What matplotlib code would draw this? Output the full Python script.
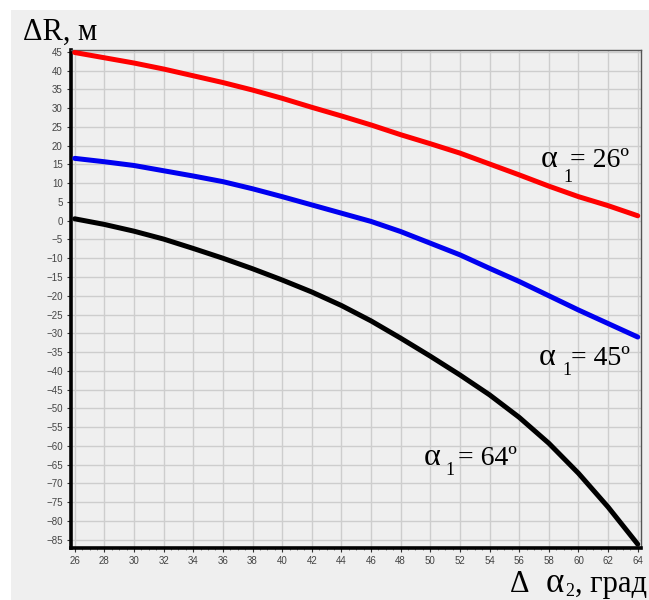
import matplotlib
matplotlib.use("Agg")
import matplotlib.pyplot as plt
from matplotlib.patches import Rectangle
from matplotlib.ticker import MultipleLocator

# Δα2, degrees
alpha2 = [26, 28, 30, 32, 34, 36, 38, 40, 42, 44, 46, 48, 50, 52, 54, 56, 58, 60, 62, 64]
# ΔR, m for alpha1 = 26, 45, 64 degrees
dr_26 = [44.8, 43.4, 42.0, 40.4, 38.6, 36.8, 34.8, 32.6, 30.2, 27.9,
         25.5, 22.9, 20.5, 18.0, 15.1, 12.2, 9.2, 6.4, 4.0, 1.3]
dr_45 = [16.6, 15.7, 14.7, 13.3, 11.9, 10.4, 8.5, 6.4, 4.2, 2.0,
         -0.2, -2.9, -6.0, -9.1, -12.7, -16.2, -20.0, -23.8, -27.4, -31.0]
dr_64 = [0.5, -1.0, -2.8, -4.9, -7.4, -10.0, -12.8, -15.8, -19.0, -22.6,
         -26.7, -31.3, -36.1, -41.1, -46.4, -52.4, -59.3, -67.3, -76.3, -86.2]

x_ticks = list(range(26, 65, 2))
y_ticks = list(range(-85, 46, 5))

BG = "#efefef"
SERIF = ["Liberation Serif", "DejaVu Serif"]

fig = plt.figure(figsize=(6.49, 6.00), dpi=100, facecolor="white")
fig.patches.append(Rectangle((11 / 649, 0), 1, 1 - 10 / 600, transform=fig.transFigure,
                             facecolor=BG, edgecolor="none", zorder=-10))
ax = fig.add_axes([71 / 649, 52 / 600, 570 / 649, 498.5 / 600])
ax.set_facecolor(BG)

ax.plot(alpha2, dr_26, color="#ff0000", lw=3.6, solid_capstyle="round", zorder=3)
ax.plot(alpha2, dr_45, color="#0000f0", lw=3.6, solid_capstyle="round", zorder=3)
ax.plot(alpha2, dr_64, color="black", lw=3.6, solid_capstyle="round", zorder=3)

ax.set_xlim(25.75, 64.22)
ax.set_ylim(-87.2, 45.6)
ax.set_xticks(x_ticks)
ax.set_yticks(y_ticks)
ax.xaxis.set_minor_locator(MultipleLocator(0.5))
ax.grid(True, which="major", color="#cdcdcd", lw=1.0, zorder=0)
ax.tick_params(axis="both", which="major", length=3, width=0.8, color="#333333",
               labelsize=7, labelcolor="#444444", pad=3)
ax.tick_params(axis="x", which="minor", length=1.5, width=0.5, color="#555555")
for lab in ax.get_xticklabels() + ax.get_yticklabels():
    lab.set_family(["Liberation Sans", "DejaVu Sans"])

for side in ("left", "bottom"):
    ax.spines[side].set_linewidth(2.6)
    ax.spines[side].set_color("black")
for side in ("top", "right"):
    ax.spines[side].set_linewidth(1.0)
    ax.spines[side].set_color("#555555")


def curve_label(xa, xs, xe, yb, ys, rest):
    ax.text(xa, yb, "α", family=SERIF, fontsize=23, ha="center", va="baseline", zorder=5)
    ax.text(xs, ys, "1", family=SERIF, fontsize=13, ha="center", va="baseline", zorder=5)
    ax.text(xe, yb, rest, family=SERIF, fontsize=20, ha="center", va="baseline", zorder=5)


curve_label(58.0, 59.3, 61.45, 14.4, 10.4, "= 26º")
curve_label(57.9, 59.2, 61.5, -38.4, -41.1, "= 45º")
curve_label(50.1, 51.3, 53.85, -65.0, -67.7, "= 64º")

# axis titles
fig.text(23 / 649, 1 - 40 / 600, "ΔR, м", family=SERIF, fontsize=22, ha="left", va="baseline")
fig.text(520 / 649, 1 - 592 / 600, "Δ", family=SERIF, fontsize=22, ha="center", va="baseline")
fig.text(555 / 649, 1 - 592 / 600, "α", family=SERIF, fontsize=25, ha="center", va="baseline")
fig.text(570 / 649, 1 - 596 / 600, "2", family=SERIF, fontsize=13, ha="center", va="baseline")
fig.text(647 / 649, 1 - 592 / 600, ", град", family=SERIF, fontsize=22, ha="right", va="baseline")

fig.savefig("out.png", dpi=100, facecolor="white")
